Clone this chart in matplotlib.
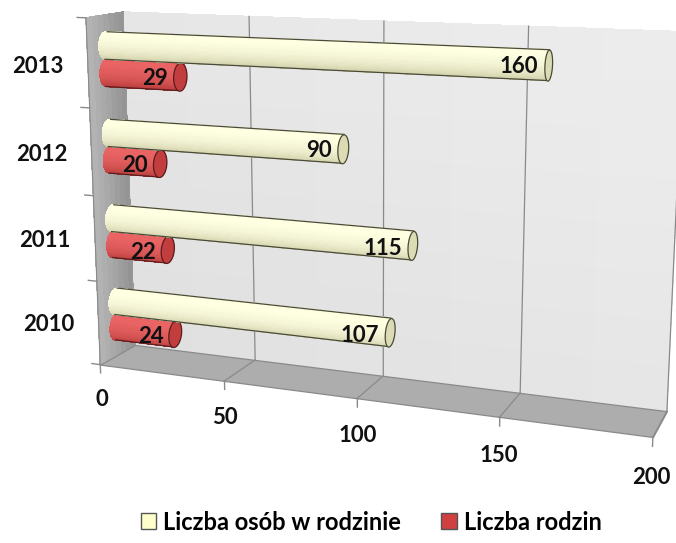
import numpy as np
import matplotlib
matplotlib.use("Agg")
import matplotlib.pyplot as plt
from matplotlib.colors import to_rgb
from matplotlib.patches import Patch
from mpl_toolkits.mplot3d import proj3d
from mpl_toolkits.mplot3d.art3d import Poly3DCollection

# ── data ────────────────────────────────────────────────────────────────
years = ["2010", "2011", "2012", "2013"]
osoby = [107, 115, 90, 160]     # Liczba osób w rodzinie
rodziny = [24, 22, 20, 29]      # Liczba rodzin
x_ticks = [0, 50, 100, 150, 200]
labels = ["Liczba osób w rodzinie", "Liczba rodzin"]

plt.rcParams["font.family"] = ["Lato", "DejaVu Sans"]
plt.rcParams["font.weight"] = "bold"

W, H = 676, 543
fig = plt.figure(figsize=(W / 100, H / 100), dpi=100)
fig.patch.set_facecolor("white")

# square 3d panel, larger than the figure so the box fills it
S = 686.4
ax = fig.add_axes([18.1 / W, -20 / H, S / W, S / H],
                  projection="3d", computed_zorder=False)
ax.set_proj_type("persp", focal_length=0.4)
ELEV, AZIM = 12.5, -69
ax.view_init(elev=ELEV, azim=AZIM, roll=0)
XMAX, DEPTH, NCAT = 200, 1.0, len(years)
ax.set_xlim(0, XMAX)
ax.set_ylim(0, DEPTH)
ax.set_zlim(0, NCAT)
BOX = (1.6, 0.2, 1.0)
ax.set_box_aspect(BOX, zoom=0.9955)
ax.set_xticks([])
ax.set_yticks([])
ax.set_zticks([])
ax.set_axis_off()
ax.patch.set_alpha(0)

grid_c = "#8a8a8a"
txt_c = "#111111"
FS = 16


def label3d(x, y, z, s, **kw):
    # place a flat 2d label at the projected position of a 3d point
    x2, y2, _ = proj3d.proj_transform(x, y, z, ax.get_proj())
    ax.text2D(x2, y2, s, transform=ax.transData, fontsize=FS,
              fontweight="bold", color=txt_c, zorder=20, **kw)


# ── walls ───────────────────────────────────────────────────────────────
def gradient(c0, c1, n):
    c0, c1 = np.array(to_rgb(c0)), np.array(to_rgb(c1))
    return [tuple(c0 + (c1 - c0) * t) for t in np.linspace(0, 1, n)]

# back wall, slightly lighter towards the top right
bx, bz = np.meshgrid(np.linspace(0, XMAX, 9), np.linspace(0, NCAT, 9))
by = np.full_like(bx, DEPTH)
bcol = np.empty(bx.shape + (3,))
for i in range(bx.shape[0]):
    for j in range(bx.shape[1]):
        t = 0.5 * (i / (bx.shape[0] - 1) + j / (bx.shape[1] - 1))
        bcol[i, j] = np.array(to_rgb("#e0e0e0")) * (1 - t) + np.array(to_rgb("#eeeeee")) * t
ax.plot_surface(bx, by, bz, facecolors=bcol, rstride=1, cstride=1,
                shade=False, linewidth=0.3, antialiased=False, zorder=0)

# left side wall, darker at the back corner
ly, lz = np.meshgrid(np.linspace(0, DEPTH, 8), np.linspace(0, NCAT, 2))
lx = np.zeros_like(ly)
lcol = np.array([gradient("#b3b3b3", "#8f8f8f", ly.shape[1])] * ly.shape[0])
ax.plot_surface(lx, ly, lz, facecolors=lcol, rstride=1, cstride=1,
                shade=False, linewidth=0.3, antialiased=False, zorder=0)

floor = Poly3DCollection([[(0, 0, 0), (XMAX, 0, 0), (XMAX, DEPTH, 0), (0, DEPTH, 0)]],
                         facecolor="#adadad", edgecolor=grid_c, linewidth=0.9, zorder=1)
ax.add_collection3d(floor)

# value gridlines on the back wall and across the floor
for v in x_ticks[1:]:
    ax.plot([v, v], [DEPTH, DEPTH], [0, NCAT], color=grid_c, lw=0.9, zorder=2)
    ax.plot([v, v], [0, DEPTH], [0, 0], color=grid_c, lw=0.9, zorder=2)
ax.plot([0, 0], [DEPTH, DEPTH], [0, NCAT], color="#9a9a9a", lw=0.6, zorder=2)
ax.plot([0, 0], [0, 0], [0, NCAT], color=grid_c, lw=0.8, zorder=2)

# tick marks
for v in x_ticks:
    ax.plot([v, v], [0, 0], [0, -0.1], color=grid_c, lw=1.0, zorder=2)
for k in range(NCAT + 1):
    ax.plot([0, -3.5], [0, 0], [k, k], color=grid_c, lw=1.0, zorder=2)

# tick labels
for v in x_ticks:
    label3d(v, 0, -0.43, str(v), ha="center", va="center")
for k, yr in enumerate(years):
    label3d(-10, 0, k + 0.45, yr, ha="right", va="center")

# ── cylinders ───────────────────────────────────────────────────────────
R_WORLD = 0.039
sx, sy, sz = BOX[0] / XMAX, BOX[1] / DEPTH, BOX[2] / NCAT
ry, rz = R_WORLD / sy, R_WORLD / sz
yc = DEPTH / 2

e, a = np.deg2rad(ELEV), np.deg2rad(AZIM)
eye = np.array([np.cos(e) * np.cos(a), np.cos(e) * np.sin(a), np.sin(e)])
th_sil = np.arctan2(-eye[1], eye[2])          # silhouette angle around the tube
light = np.array([0.0, -0.6, 1.0])
light /= np.linalg.norm(light)


def tube(value, zc, dark, light_c, cap_c, edge_c, z0):
    th = np.linspace(0, 2 * np.pi, 73)
    X, T = np.meshgrid([0, value], th)
    Y = yc + ry * np.cos(T)
    Z = zc + rz * np.sin(T)
    dot = np.cos(T) * light[1] + np.sin(T) * light[2]
    shade = np.clip(0.5 + 0.5 * dot, 0, 1) ** 0.8
    c0, c1 = np.array(to_rgb(dark)), np.array(to_rgb(light_c))
    cols = c0 + (c1 - c0) * shade[..., None]
    ax.plot_surface(X, Y, Z, facecolors=cols, rstride=1, cstride=1, shade=False,
                    linewidth=0.3, antialiased=False, zorder=z0)
    for t in (th_sil, th_sil + np.pi):
        ax.plot([0, value], [yc + ry * np.cos(t)] * 2, [zc + rz * np.sin(t)] * 2,
                color=edge_c, lw=0.9, zorder=z0 + 0.1)
    cap = [(value, yc + ry * np.cos(t), zc + rz * np.sin(t)) for t in th]
    ax.add_collection3d(Poly3DCollection([cap], facecolor=cap_c, edgecolor=edge_c,
                                         linewidth=0.9, zorder=z0 + 0.2))
    label3d(value - 2, yc - ry, zc, str(value), ha="right", va="center")


GAP = 0.155
for k in range(NCAT):
    tube(rodziny[k], k + 0.5 - GAP, "#9a2424", "#ea6464", "#c23e3e", "#5a1e1e", 3)
for k in range(NCAT):
    tube(osoby[k], k + 0.5 + GAP, "#b4b48a", "#ffffe2", "#dcdcb4", "#4a4a38", 5)

# ── legend ──────────────────────────────────────────────────────────────
handles = [Patch(facecolor="#ffffcc", edgecolor="#555555", label=labels[0]),
           Patch(facecolor="#d04040", edgecolor="#555555", label=labels[1])]
fig.legend(handles=handles, loc="center", bbox_to_anchor=(0.549, 21 / H), ncol=2,
           frameon=False, prop={"size": 17, "weight": "bold"},
           handlelength=0.65, handleheight=0.65, handletextpad=0.3,
           columnspacing=1.7)

fig.savefig("out.png", dpi=100, facecolor="white")
